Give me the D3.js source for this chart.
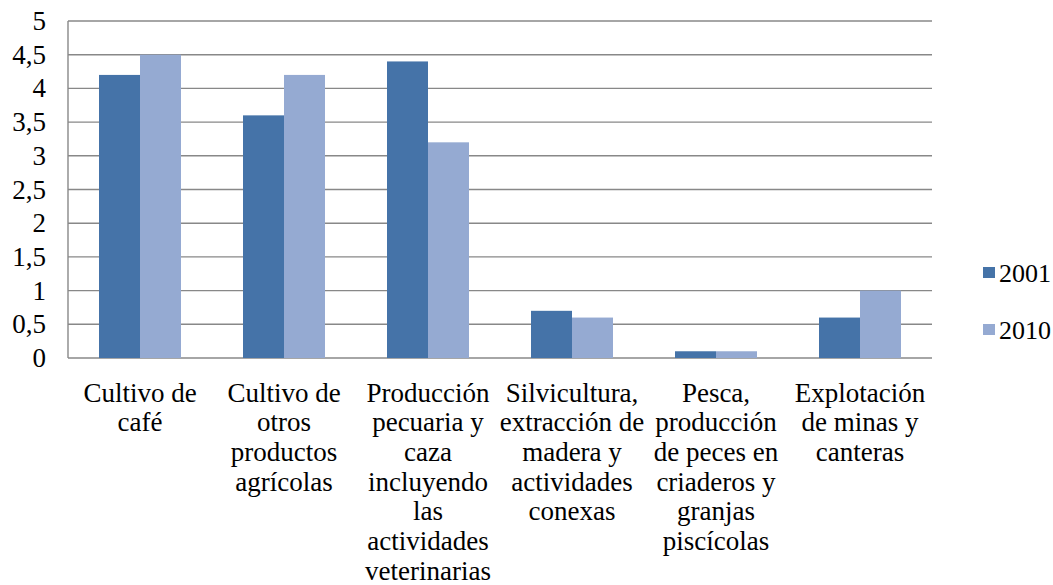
<!DOCTYPE html>
<html><head><meta charset="utf-8">
<script src="https://cdn.jsdelivr.net/npm/d3@7"></script>
</head><body style="margin:0"><svg id="c" width="1053" height="585"></svg>
<script>
const categories = [
  ["Cultivo de","café"],
  ["Cultivo de","otros","productos","agrícolas"],
  ["Producción","pecuaria y","caza","incluyendo","las","actividades","veterinarias"],
  ["Silvicultura,","extracción de","madera y","actividades","conexas"],
  ["Pesca,","producción","de peces en","criaderos y","granjas","piscícolas"],
  ["Explotación","de minas y","canteras"]
];
const series = ["2001","2010"];
const values2001 = [4.2, 3.6, 4.4, 0.7, 0.1, 0.6];
const values2010 = [4.5, 4.2, 3.2, 0.6, 0.1, 1.0];
const yTicks = [0,0.5,1,1.5,2,2.5,3,3.5,4,4.5,5];
const colors = ["#4573A8","#95AAD2"];

const FONT = "Times New Roman";
const svg = d3.select("#c");
const L=68, R=932, T=21, B=358, FS=27;
const x0 = d3.scaleBand().domain(d3.range(categories.length)).range([L,R]).padding(0);
const x1 = d3.scaleBand().domain(series).range([31,113]);
const y = d3.scaleLinear().domain([0,5]).range([B,T]);
const data = [values2001, values2010];

svg.append("g").selectAll("line").data(yTicks).join("line")
  .attr("x1",L).attr("x2",R).attr("y1",d=>y(d)).attr("y2",d=>y(d))
  .attr("stroke","#888").attr("stroke-width",1.4);
svg.append("line").attr("x1",L).attr("x2",L).attr("y1",T).attr("y2",B).attr("stroke","#888").attr("stroke-width",1.4);

svg.append("g").selectAll("text").data(yTicks).join("text")
  .attr("font-family",FONT).attr("font-size",FS)
  .attr("x",46).attr("y",d=>y(d)+9).attr("text-anchor","end")
  .text(d=>String(d).replace(".",","));

series.forEach((s,si)=>{
  svg.append("g").selectAll("rect").data(data[si]).join("rect")
    .attr("x",(d,i)=>x0(i)+x1(s)).attr("width",x1.bandwidth())
    .attr("y",d=>y(d)).attr("height",d=>B-y(d))
    .attr("fill",colors[si]);
});

const cg = svg.append("g");
categories.forEach((lines,i)=>{
  const cx = x0(i)+x0.bandwidth()/2;
  lines.forEach((ln,j)=>cg.append("text").attr("font-family",FONT).attr("font-size",FS)
    .attr("text-anchor","middle").attr("x",cx).attr("y",401.5+j*29.7).text(ln));
});

series.forEach((s,si)=>{
  const ly = 267 + si*57;
  svg.append("rect").attr("x",983).attr("y",ly).attr("width",12).attr("height",11).attr("fill",colors[si]);
  svg.append("text").attr("font-family",FONT).attr("font-size",FS-1).attr("x",999).attr("y",ly+15).text(s);
});
</script></body></html>
